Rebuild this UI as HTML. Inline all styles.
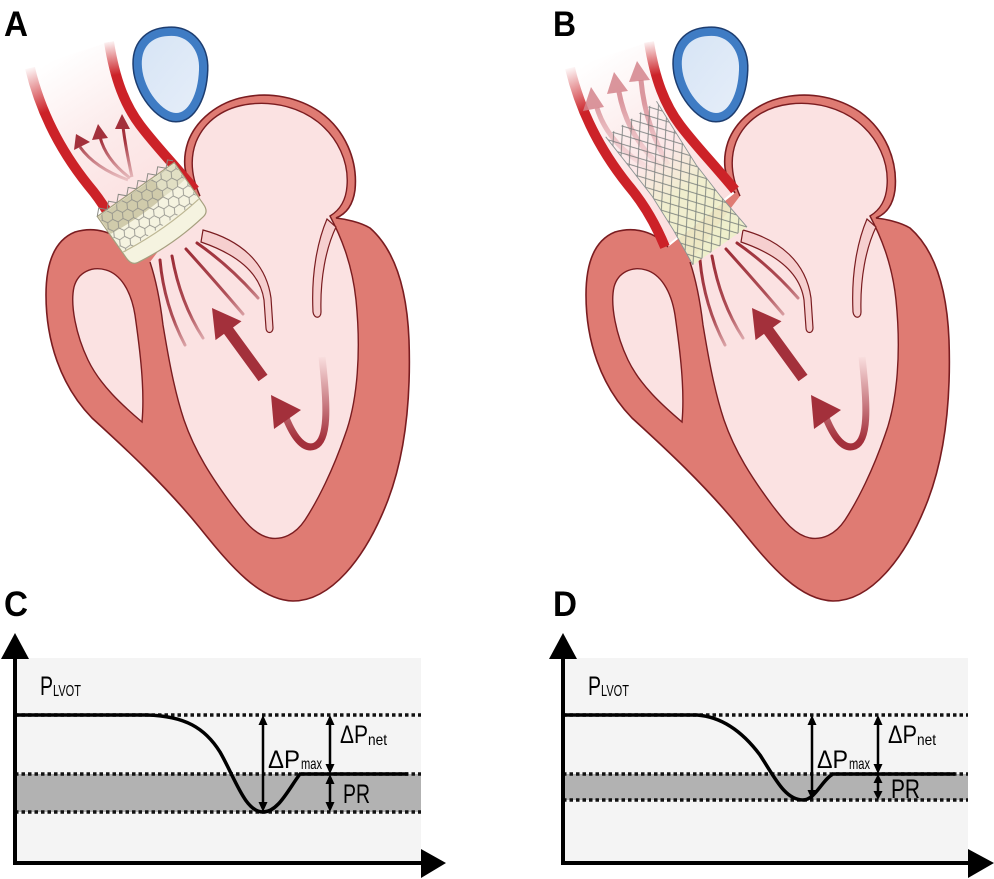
<!DOCTYPE html>
<html><head><meta charset="utf-8"><style>
html,body{margin:0;padding:0;background:#fff;}
svg{display:block;}
</style></head><body>
<svg width="994" height="879" viewBox="0 0 994 879" xmlns="http://www.w3.org/2000/svg">
<defs>
  <linearGradient id="aoFill" gradientUnits="userSpaceOnUse" x1="165" y1="220" x2="60" y2="55">
    <stop offset="0" stop-color="#fbdede"/><stop offset="0.55" stop-color="#fcebeb"/><stop offset="1" stop-color="#ffffff"/>
  </linearGradient>
  <linearGradient id="wallL" gradientUnits="userSpaceOnUse" x1="30" y1="66" x2="46" y2="112">
    <stop offset="0" stop-color="#cc2228" stop-opacity="0"/><stop offset="1" stop-color="#cc2228" stop-opacity="1"/>
  </linearGradient>
  <linearGradient id="wallR" gradientUnits="userSpaceOnUse" x1="109" y1="40" x2="116" y2="75">
    <stop offset="0" stop-color="#cc2228" stop-opacity="0"/><stop offset="1" stop-color="#cc2228" stop-opacity="1"/>
  </linearGradient>
  <linearGradient id="flowFade" gradientUnits="userSpaceOnUse" x1="185" y1="245" x2="235" y2="345">
    <stop offset="0" stop-color="#9b2a34" stop-opacity="1"/><stop offset="0.55" stop-color="#9b2a34" stop-opacity="0.8"/><stop offset="1" stop-color="#9b2a34" stop-opacity="0"/>
  </linearGradient>
  <linearGradient id="smallFade" gradientUnits="userSpaceOnUse" x1="320" y1="440" x2="322" y2="355">
    <stop offset="0" stop-color="#a3303b" stop-opacity="1"/><stop offset="1" stop-color="#a3303b" stop-opacity="0"/>
  </linearGradient>
  <linearGradient id="aoArrFade" gradientUnits="userSpaceOnUse" x1="0" y1="182" x2="0" y2="140">
    <stop offset="0" stop-color="#a3303b" stop-opacity="0.15"/><stop offset="1" stop-color="#a3303b" stop-opacity="1"/>
  </linearGradient>
  <linearGradient id="bArrFade" gradientUnits="userSpaceOnUse" x1="0" y1="175" x2="0" y2="100">
    <stop offset="0" stop-color="#d27f88" stop-opacity="0"/><stop offset="1" stop-color="#d27f88" stop-opacity="0.8"/>
  </linearGradient>
  <linearGradient id="blueFill" x1="0" y1="0" x2="1" y2="1">
    <stop offset="0" stop-color="#d6e4f5"/><stop offset="1" stop-color="#e6eef9"/>
  </linearGradient>
  <linearGradient id="stentCream" gradientUnits="userSpaceOnUse" x1="0" y1="0" x2="0" y2="-110">
    <stop offset="0" stop-color="#eef0cb" stop-opacity="0.95"/><stop offset="0.6" stop-color="#eef0cb" stop-opacity="0.85"/><stop offset="1" stop-color="#eef0cb" stop-opacity="0"/>
  </linearGradient>
  <pattern id="hex" patternUnits="userSpaceOnUse" width="18" height="10.39">
    <path d="M0,5.2 L3,0 L9,0 L12,5.2 L9,10.39 L3,10.39 Z M12,5.2 L18,5.2" fill="none" stroke="#8c8c86" stroke-width="0.8"/>
  </pattern>
  <pattern id="diamond" patternUnits="userSpaceOnUse" width="11" height="14">
    <path d="M0,0 L11,14 M11,0 L0,14" fill="none" stroke="#666e6e" stroke-width="0.85"/>
  </pattern>

  <g id="heart">
    <path d="M128,247 C115,232 95,226 75,232 C55,240 46,262 46,295 C46,340 60,385 92,418 C125,448 165,485 200,528 C232,568 260,600 293,601 C330,601 365,560 388,500 C405,455 411,400 409,340 C407,290 395,250 370,228 C360,222 345,219 336,218 C346,214 353,205 355,190 C358,160 345,130 320,112 C298,97 270,92 245,97 C218,102 196,120 188,142 C182,160 184,178 195,193 Z" fill="#df7b73"/>
    <path d="M128,247 C115,232 95,226 75,232 C55,240 46,262 46,295 C46,340 60,385 92,418 C125,448 165,485 200,528 C232,568 260,600 293,601 C330,601 365,560 388,500 C405,455 411,400 409,340 C407,290 395,250 370,228 C360,222 345,219 336,218 C346,214 353,205 355,190 C358,160 345,130 320,112 C298,97 270,92 245,97 C218,102 196,120 188,142 C182,160 184,178 195,193" fill="none" stroke="#7a1c20" stroke-width="1.6"/>
    <path d="M150,262 L200,196 C191,176 190,158 196,142 C205,120 225,107 250,104 C275,101 300,108 318,122 C338,138 349,162 347,186 C346,200 340,210 330,216 C340,235 352,262 356,300 C361,350 358,400 345,435 C333,470 318,500 305,520 C295,535 282,540 270,538 C255,535 245,522 232,505 C212,478 195,452 184,420 C174,390 168,355 163,325 C160,300 156,280 150,262 Z" fill="#fbe2e2"/>
    <path d="M200,196 C191,176 190,158 196,142 C205,120 225,107 250,104 C275,101 300,108 318,122 C338,138 349,162 347,186 C346,200 340,210 330,216 C340,235 352,262 356,300 C361,350 358,400 345,435 C333,470 318,500 305,520 C295,535 282,540 270,538 C255,535 245,522 232,505 C212,478 195,452 184,420 C174,390 168,355 163,325 C160,300 156,280 150,262" fill="none" stroke="#7a1c20" stroke-width="1.4"/>
    <path d="M142,422 C122,405 100,385 88,360 C76,335 70,305 74,287 C78,272 92,266 106,270 C120,274 131,290 135,315 C140,350 145,390 142,422 Z" fill="#fbe2e2" stroke="#7a1c20" stroke-width="1.4"/>
    <path d="M203,230 C240,240 266,262 271,298 L273,328 C273,334 266,334 266,328 L264,300 C260,272 236,254 201,242 Z" fill="#f6cfcf" stroke="#7a1c20" stroke-width="1.2"/>
    <path d="M327,219 C318,240 311,272 313,312 C314,319 321,319 321,312 C320,278 326,248 336,227 Z" fill="#f6cfcf" stroke="#7a1c20" stroke-width="1.2"/>
    <g fill="none" stroke="url(#flowFade)" stroke-width="3" stroke-linecap="round">
      <path d="M160,260 Q164,305 185,345"/>
      <path d="M172,256 Q180,302 203,338"/>
      <path d="M186,249 Q214,280 243,314"/>
      <path d="M197,243 Q230,266 258,298"/>
    </g>
    <polygon points="212,308 241.5,321.3 233,327.5 267.5,374.8 258.5,381.2 224,333.9 215.5,340.1" fill="#a3303b"/>
    <path d="M286,418 C295,440 305,450 315,446 C328,440 328,410 322,357" fill="none" stroke="url(#smallFade)" stroke-width="7"/>
    <polygon points="271,395 301,410 274,429" fill="#a3303b"/>
    <path d="M30,68 C40,110 60,150 88,185 C105,205 116,225 125,247 L195,190 C170,160 155,145 140,125 C125,105 115,80 109,42 Z" fill="url(#aoFill)"/>
    <path d="M30,68 C40,110 60,150 88,185 C105,205 116,225 125,247" fill="none" stroke="url(#wallL)" stroke-width="10"/>
    <path d="M109,42 C115,80 125,105 140,125 C155,145 170,160 195,190" fill="none" stroke="url(#wallR)" stroke-width="10"/>
    <path d="M168,32 C190,30 204,48 203,70 C202,95 192,117 176,117 C160,117 140,92 138,68 C136,46 148,33 168,32 Z" fill="none" stroke="#1d3d70" stroke-width="11"/>
    <path d="M168,32 C190,30 204,48 203,70 C202,95 192,117 176,117 C160,117 140,92 138,68 C136,46 148,33 168,32 Z" fill="url(#blueFill)" stroke="#3f7cc4" stroke-width="8"/>
  </g>
</defs>

<!-- Panel A -->
<use href="#heart"/>
<g fill="none" stroke="url(#aoArrFade)" stroke-width="3">
  <path d="M128,180 Q95,168 80,147"/>
  <path d="M130,178 Q106,160 100,137"/>
  <path d="M132,177 Q126,150 123,127"/>
</g>
<g fill="#a3303b">
  <polygon points="76,134 90,142 74,150"/>
  <polygon points="98,124 108,138 92,140"/>
  <polygon points="122,114 130,129 115,129"/>
</g>
<g transform="translate(169,237) rotate(-35)">
  <path d="M-47,-58 L47,-58 L47,-7 Q47,2 40,3 Q0,9 -40,3 Q-47,2 -47,-7 Z" fill="#f5f3e0" stroke="#a59f7e" stroke-width="1.2"/>
  <path d="M-46,-57 L20,-57 L20,-36 Q-10,-32 -46,-36 Z" fill="#c9c3a1" opacity="0.85"/>
  <path d="M20,-57 L46,-57 L46,-38 Q33,-36 20,-36 Z" fill="#d9d5b8" opacity="0.7"/>
  <rect x="-46" y="-57" width="92" height="44" fill="url(#hex)"/>
  <path d="M-46,-14 Q0,-8 46,-14" fill="none" stroke="#bdb794" stroke-width="1.2"/>
  <polyline points="-47,-58 -41,-64 -35,-58 -29,-64 -23,-58 -17,-64 -11,-58 -5,-64 1,-58 7,-64 13,-58 19,-64 25,-58 31,-64 37,-58 43,-64 47,-60" fill="none" stroke="#8a8a84" stroke-width="1"/>
</g>

<!-- Panel B -->
<use href="#heart" transform="translate(540,0)"/>
<g fill="none" stroke="url(#bArrFade)" stroke-width="5">
  <path d="M662,175 Q610,150 597,108"/>
  <path d="M665,170 Q628,140 619,92"/>
  <path d="M668,165 Q645,125 641,80"/>
</g>
<g fill="#d4848c" opacity="0.85">
  <polygon points="591,87 604,107 583,111"/>
  <polygon points="614,72 628,91 607,94"/>
  <polygon points="637,61 650,80 629,82"/>
</g>
<g transform="translate(720,246) rotate(-35)">
  <polygon points="-33,0 -29,-40 -27,-80 -29,-120 -31,-155 31,-155 29,-120 27,-80 29,-40 33,0" fill="url(#stentCream)"/>
  <polygon points="-33,0 -29,-40 -27,-80 -29,-120 -31,-155 31,-155 29,-120 27,-80 29,-40 33,0" fill="url(#diamond)" opacity="0.85"/>
  <polyline points="-33,0 -29,-40 -27,-80 -29,-120 -31,-155" fill="none" stroke="#8b9393" stroke-width="0.9"/>
  <polyline points="33,0 29,-40 27,-80 29,-120 31,-155" fill="none" stroke="#8b9393" stroke-width="0.9"/>
</g>

<!-- Letters -->
<g font-family="'Liberation Sans', sans-serif" font-weight="bold" font-size="35" fill="#000">
  <text x="4" y="36" textLength="24" lengthAdjust="spacingAndGlyphs">A</text>
  <text x="553" y="36" textLength="23" lengthAdjust="spacingAndGlyphs">B</text>
  <text x="4" y="616" textLength="24" lengthAdjust="spacingAndGlyphs">C</text>
  <text x="553" y="616" textLength="24" lengthAdjust="spacingAndGlyphs">D</text>
</g>

<!-- Chart C -->
<rect x="15" y="658" width="406" height="204" fill="#f4f4f4"/>
<rect x="15" y="774" width="406" height="38" fill="#b2b2b2"/>
<g stroke="#111" stroke-width="3.5" stroke-dasharray="3.5 3">
  <line x1="15" y1="715" x2="421" y2="715"/>
  <line x1="15" y1="774" x2="421" y2="774"/>
  <line x1="15" y1="812" x2="421" y2="812"/>
</g>
<path d="M15,715 L147,715 C185,716 205,728 220,752 C235,778 245,812 263,812 C278,812 288,790 300,774 L408,774" fill="none" stroke="#000" stroke-width="3.5"/>
<g stroke="#000" stroke-width="2.5">
  <line x1="263" y1="722" x2="263" y2="805"/>
  <line x1="330" y1="722" x2="330" y2="767"/>
  <line x1="330" y1="781" x2="330" y2="805"/>
</g>
<g fill="#000">
  <polygon points="263,715 258.5,725 267.5,725"/><polygon points="263,812 258.5,802 267.5,802"/>
  <polygon points="330,715 325.5,725 334.5,725"/><polygon points="330,774 325.5,764 334.5,764"/>
  <polygon points="330,774 325.5,784 334.5,784"/><polygon points="330,812 325.5,802 334.5,802"/>
</g>
<line x1="15" y1="655" x2="15" y2="865" stroke="#000" stroke-width="4"/>
<polygon points="15,633 1,659 29,659" fill="#000"/>
<line x1="13" y1="863" x2="422" y2="863" stroke="#000" stroke-width="4"/>
<polygon points="446,863 421,849 421,878" fill="#000"/>
<g font-family="'Liberation Sans Narrow','Liberation Sans', sans-serif" fill="#000">
  <text x="40" y="695" font-size="27" textLength="13" lengthAdjust="spacingAndGlyphs">P</text>
  <text x="53" y="696" font-size="16" textLength="28" lengthAdjust="spacingAndGlyphs">LVOT</text>
  <text x="268" y="768" font-size="25" textLength="32" lengthAdjust="spacingAndGlyphs">ΔP</text>
  <text x="301" y="769" font-size="16" textLength="21" lengthAdjust="spacingAndGlyphs">max</text>
  <text x="340" y="743" font-size="25" textLength="28" lengthAdjust="spacingAndGlyphs">ΔP</text>
  <text x="368" y="745" font-size="16" textLength="19" lengthAdjust="spacingAndGlyphs">net</text>
  <text x="343" y="803" font-size="27" textLength="27" lengthAdjust="spacingAndGlyphs">PR</text>
</g>

<!-- Chart D -->
<rect x="563" y="658" width="405" height="204" fill="#f4f4f4"/>
<rect x="563" y="774" width="405" height="26" fill="#b2b2b2"/>
<g stroke="#111" stroke-width="3.5" stroke-dasharray="3.5 3">
  <line x1="563" y1="715" x2="968" y2="715"/>
  <line x1="563" y1="774" x2="968" y2="774"/>
  <line x1="563" y1="800" x2="968" y2="800"/>
</g>
<path d="M563,715 L697,715 C725,717 745,735 760,755 C775,778 785,800 803,800 C815,800 822,780 833,774 L955,774" fill="none" stroke="#000" stroke-width="3.5"/>
<g stroke="#000" stroke-width="2.5">
  <line x1="812" y1="722" x2="812" y2="793"/>
  <line x1="878" y1="722" x2="878" y2="767"/>
  <line x1="878" y1="781" x2="878" y2="793"/>
</g>
<g fill="#000">
  <polygon points="812,715 807.5,725 816.5,725"/><polygon points="812,800 807.5,790 816.5,790"/>
  <polygon points="878,715 873.5,725 882.5,725"/><polygon points="878,774 873.5,764 882.5,764"/>
  <polygon points="878,774 873.5,783 882.5,783"/><polygon points="878,800 873.5,791 882.5,791"/>
</g>
<line x1="563" y1="655" x2="563" y2="865" stroke="#000" stroke-width="4"/>
<polygon points="563,633 549,659 577,659" fill="#000"/>
<line x1="561" y1="863" x2="970" y2="863" stroke="#000" stroke-width="4"/>
<polygon points="994,863 968,849 968,878" fill="#000"/>
<g font-family="'Liberation Sans Narrow','Liberation Sans', sans-serif" fill="#000">
  <text x="588" y="695" font-size="27" textLength="13" lengthAdjust="spacingAndGlyphs">P</text>
  <text x="601" y="696" font-size="16" textLength="28" lengthAdjust="spacingAndGlyphs">LVOT</text>
  <text x="817" y="768" font-size="25" textLength="31" lengthAdjust="spacingAndGlyphs">ΔP</text>
  <text x="849" y="769" font-size="16" textLength="21" lengthAdjust="spacingAndGlyphs">max</text>
  <text x="888" y="743" font-size="25" textLength="29" lengthAdjust="spacingAndGlyphs">ΔP</text>
  <text x="917" y="745" font-size="16" textLength="19" lengthAdjust="spacingAndGlyphs">net</text>
  <text x="891" y="798" font-size="27" textLength="29" lengthAdjust="spacingAndGlyphs">PR</text>
</g>
</svg>
</body></html>
